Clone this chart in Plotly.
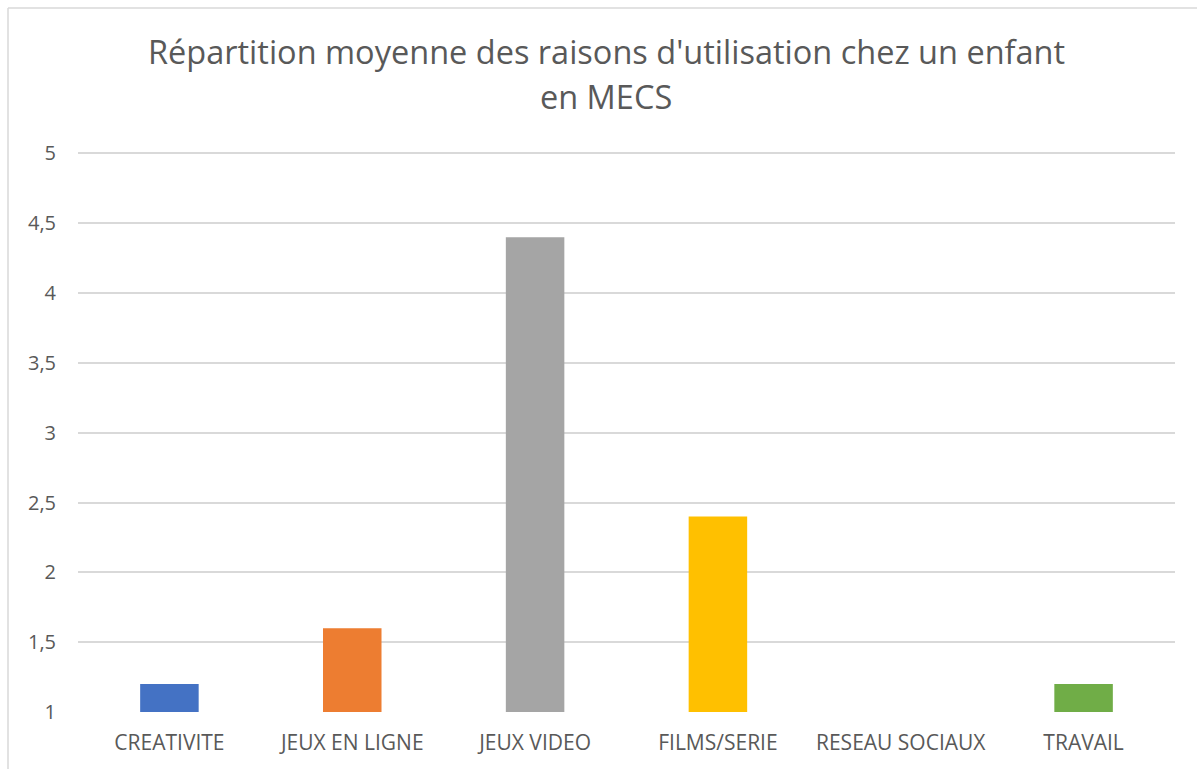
import plotly.graph_objects as go

categories = ["CREATIVITE", "JEUX EN LIGNE", "JEUX VIDEO", "FILMS/SERIE", "RESEAU SOCIAUX", "TRAVAIL"]
values = [1.2, 1.6, 4.4, 2.4, 1.0, 1.2]
colors = ["#4472C4", "#ED7D31", "#A5A5A5", "#FFC000", "#5B9BD5", "#70AD47"]
tick_vals = [1, 1.5, 2, 2.5, 3, 3.5, 4, 4.5, 5]
tick_text = ["1", "1,5", "2", "2,5", "3", "3,5", "4", "4,5", "5"]
title_lines = ["Répartition moyenne des raisons d'utilisation chez un enfant", "en MECS"]

W, H = 1197, 769
Y0, Y1 = 1.0, 5.01
L, R, B = 78, 22, 57
unit = 559 / 4
T = round(H - B - unit * (Y1 - Y0))
pw, ph = W - L - R, H - T - B

def px(x):
    return (x - L) / pw

def py(y):
    return (H - B - y) / ph

fig = go.Figure(go.Bar(x=categories, y=values, marker_color=colors, marker_line_width=0))

font = "Open Sans, Segoe UI, sans-serif"
fig.update_layout(
    width=W, height=H,
    margin=dict(l=L, r=R, t=T, b=B),
    paper_bgcolor="white", plot_bgcolor="white",
    bargap=0.68,
    showlegend=False,
    font=dict(family=font, color="#595959", size=20),
)
fig.update_xaxes(showgrid=False, showline=False, ticks="", tickfont=dict(size=21, color="#595959"),
                 ticklabelstandoff=16)
fig.update_yaxes(range=[Y0, Y1], tickvals=tick_vals, ticktext=tick_text, showgrid=True,
                 gridcolor="#D9D9D9", gridwidth=1.5, zeroline=False, showline=False, ticks="",
                 tickfont=dict(size=20, color="#595959"), ticklabelstandoff=21)

for line, yc in zip(title_lines, [52, 97]):
    fig.add_annotation(text=line, xref="paper", yref="paper", x=px(606), y=py(yc),
                       xanchor="center", yanchor="middle", showarrow=False,
                       font=dict(family=font, size=32.5, color="#595959"))

fig.add_shape(type="line", xref="paper", yref="paper", x0=px(8), x1=px(8), y0=py(8), y1=py(H),
              line=dict(color="#D9D9D9", width=1.5))
fig.add_shape(type="line", xref="paper", yref="paper", x0=px(8), x1=px(W), y0=py(8), y1=py(8),
              line=dict(color="#D9D9D9", width=1.5))

fig.write_html("out.html", config={"displayModeBar": False},
               post_script="document.body.style.margin='0';document.body.style.overflow='hidden';")
